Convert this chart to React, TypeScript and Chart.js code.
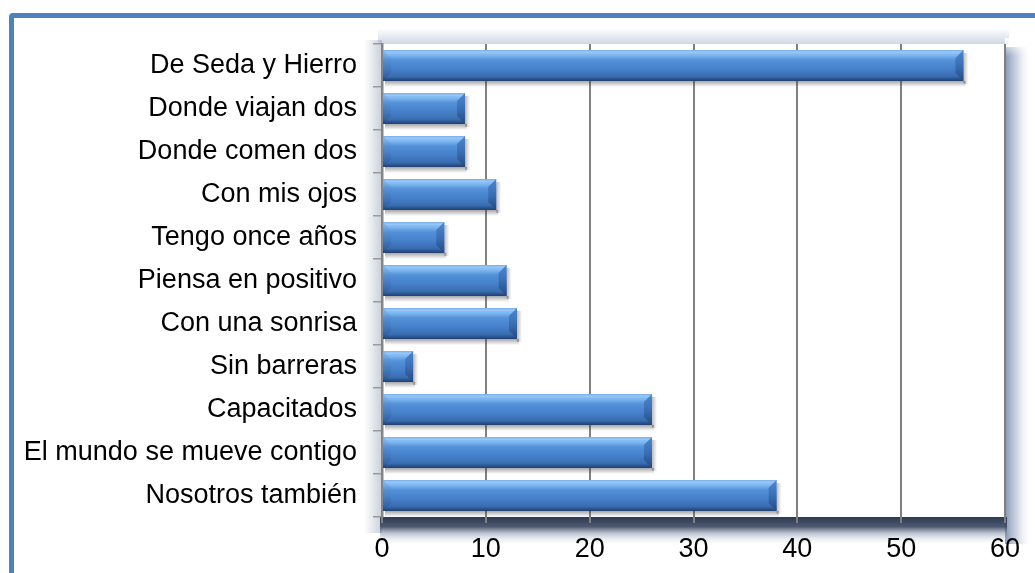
import React, { useEffect, useRef } from "react";
import { Chart, registerables } from "chart.js";

Chart.register(...registerables);

const categories = [
  "De Seda y Hierro",
  "Donde viajan dos",
  "Donde comen dos",
  "Con mis ojos",
  "Tengo once años",
  "Piensa en positivo",
  "Con una sonrisa",
  "Sin barreras",
  "Capacitados",
  "El mundo se mueve contigo",
  "Nosotros también",
];
const values = [56, 8, 8, 11, 6, 12, 13, 3, 26, 26, 38];
const xTicks = [0, 10, 20, 30, 40, 50, 60];

const FONT = "'Liberation Sans', Arial, sans-serif";

const plotShadow = {
  id: "plotShadow",
  beforeDraw(chart: any) {
    const { ctx, chartArea: a } = chart;
    const w = a.right - a.left;
    const h = a.bottom - a.top;
    ctx.save();

    // top glow
    const gt = ctx.createLinearGradient(0, a.top - 16, 0, a.top);
    gt.addColorStop(0, "rgba(170,185,210,0)");
    gt.addColorStop(1, "rgba(170,185,210,0.55)");
    ctx.fillStyle = gt;
    ctx.fillRect(a.left - 4, a.top - 16, w + 8, 16);

    // left glow
    const gL = ctx.createLinearGradient(a.left - 18, 0, a.left, 0);
    gL.addColorStop(0, "rgba(165,175,192,0)");
    gL.addColorStop(1, "rgba(165,175,192,0.6)");
    ctx.fillStyle = gL;
    ctx.fillRect(a.left - 18, a.top - 4, 18, h + 20);

    // right shadow
    const gr = ctx.createLinearGradient(a.right, 0, a.right + 24, 0);
    gr.addColorStop(0, "rgba(105,122,160,0.8)");
    gr.addColorStop(0.45, "rgba(145,160,192,0.5)");
    gr.addColorStop(1, "rgba(210,218,232,0)");
    ctx.fillStyle = gr;
    ctx.fillRect(a.right, a.top + 3, 24, h + 24);
    const grt = ctx.createLinearGradient(0, a.top - 6, 0, a.top + 12);
    grt.addColorStop(0, "rgba(255,255,255,1)");
    grt.addColorStop(1, "rgba(255,255,255,0)");
    ctx.fillStyle = grt;
    ctx.fillRect(a.right, a.top - 6, 24, 18);

    // bottom dark floor + fade
    const gb = ctx.createLinearGradient(0, a.bottom, 0, a.bottom + 28);
    gb.addColorStop(0, "rgba(45,57,80,1)");
    gb.addColorStop(0.35, "rgba(62,76,102,0.92)");
    gb.addColorStop(0.6, "rgba(120,135,160,0.45)");
    gb.addColorStop(1, "rgba(220,225,235,0)");
    ctx.fillStyle = gb;
    ctx.fillRect(a.left - 2, a.bottom, w + 4, 28);

    // plot background
    ctx.fillStyle = "#ffffff";
    ctx.fillRect(a.left, a.top, w, h);
    ctx.restore();
  },
};

const bevelBars = {
  id: "bevelBars",
  afterDatasetsDraw(chart: any) {
    const { ctx } = chart;
    const meta = chart.getDatasetMeta(0);
    meta.data.forEach((el: any) => {
      const p = el.getProps(["x", "y", "base", "height"], true);
      const L = Math.min(p.base, p.x);
      const R = Math.max(p.base, p.x);
      const T = p.y - p.height / 2;
      const B = p.y + p.height / 2;
      const H = B - T;
      const b = Math.min(8, (R - L) / 2, H / 2);

      ctx.save();
      const gs = ctx.createLinearGradient(0, B, 0, B + 6);
      gs.addColorStop(0, "rgba(60,60,70,0.45)");
      gs.addColorStop(1, "rgba(60,60,70,0)");
      ctx.fillStyle = gs;
      ctx.fillRect(L + 2, B, R - L, 6);
      const gs2 = ctx.createLinearGradient(R, 0, R + 5, 0);
      gs2.addColorStop(0, "rgba(60,60,70,0.35)");
      gs2.addColorStop(1, "rgba(60,60,70,0)");
      ctx.fillStyle = gs2;
      ctx.fillRect(R, T + 3, 5, H);

      const g = ctx.createLinearGradient(0, T, 0, B);
      g.addColorStop(0, "#5e95d8");
      g.addColorStop(0.07, "#8fc4f6");
      g.addColorStop(0.18, "#7ab4ef");
      g.addColorStop(0.32, "#5391d9");
      g.addColorStop(0.6, "#4681cb");
      g.addColorStop(0.85, "#3a6db1");
      g.addColorStop(0.93, "#2a5592");
      g.addColorStop(1, "#1f3c68");
      ctx.fillStyle = g;
      ctx.fillRect(L, T, R - L, H);

      const gl = ctx.createLinearGradient(0, T, 0, B);
      gl.addColorStop(0, "rgba(120,175,235,0.5)");
      gl.addColorStop(1, "rgba(30,70,130,0.45)");
      ctx.fillStyle = gl;
      ctx.beginPath();
      ctx.moveTo(L, T);
      ctx.lineTo(L + b, T + b);
      ctx.lineTo(L + b, B - b);
      ctx.lineTo(L, B);
      ctx.closePath();
      ctx.fill();

      const gR = ctx.createLinearGradient(0, T, 0, B);
      gR.addColorStop(0, "#4c86cf");
      gR.addColorStop(0.5, "#3a6fb5");
      gR.addColorStop(1, "#244a82");
      ctx.fillStyle = gR;
      ctx.beginPath();
      ctx.moveTo(R - b, T + b);
      ctx.lineTo(R, T);
      ctx.lineTo(R, B);
      ctx.lineTo(R - b, B - b);
      ctx.closePath();
      ctx.fill();

      ctx.fillStyle = "rgba(170,215,255,0.35)";
      ctx.beginPath();
      ctx.moveTo(L, T);
      ctx.lineTo(R, T);
      ctx.lineTo(R - b * 0.35, T + b * 0.35);
      ctx.lineTo(L + b * 0.35, T + b * 0.35);
      ctx.closePath();
      ctx.fill();
      ctx.restore();
    });
  },
};

export default function App() {
  const ref = useRef<HTMLCanvasElement | null>(null);

  useEffect(() => {
    if (!ref.current) return;
    const chart = new Chart(ref.current, {
      type: "bar",
      data: {
        labels: categories,
        datasets: [
          {
            data: values,
            backgroundColor: "rgba(0,0,0,0)",
            borderWidth: 0,
            barPercentage: 0.72,
            categoryPercentage: 1,
          },
        ],
      },
      options: {
        indexAxis: "y",
        responsive: false,
        animation: false,
        devicePixelRatio: 1,
        layout: { padding: { top: 44, right: 30, left: 0, bottom: 0 } },
        plugins: {
          legend: { display: false },
          tooltip: { enabled: false },
          title: { display: false },
        },
        scales: {
          x: {
            type: "linear",
            position: "bottom",
            min: 0,
            max: 60,
            afterBuildTicks: (s: any) => {
              s.ticks = xTicks.map((v) => ({ value: v }));
            },
            afterFit: (s: any) => {
              s.height = 56;
            },
            ticks: {
              color: "#000",
              font: { family: FONT, size: 27 },
              padding: 10,
            },
            grid: {
              color: "#808080",
              lineWidth: 2,
              drawTicks: true,
              tickLength: 6,
            },
            border: { display: false },
          },
          y: {
            type: "category",
            afterFit: (s: any) => {
              s.width = 382;
            },
            ticks: {
              color: "#000",
              font: { family: FONT, size: 27 },
              padding: 16,
            },
            grid: {
              display: true,
              drawOnChartArea: false,
              drawTicks: true,
              tickLength: 9,
              color: "#9a9a9a",
              lineWidth: 1.5,
              offset: true,
            },
            border: { display: true, color: "#858585", width: 2.5 },
          },
        },
      },
      plugins: [plotShadow, bevelBars],
    } as any);
    return () => chart.destroy();
  }, []);

  return (
    <div
      style={{
        position: "absolute",
        left: 0,
        top: 0,
        width: 1035,
        height: 573,
        overflow: "hidden",
        background: "#ffffff",
      }}
    >
      <div
        style={{
          position: "absolute",
          left: 9,
          top: 13,
          width: 1100,
          height: 700,
          border: "5px solid #4f81bd",
          borderRadius: 4,
          boxSizing: "border-box",
        }}
      />
      <canvas
        ref={ref}
        width={1035}
        height={573}
        style={{ position: "absolute", left: 0, top: 0, display: "block" }}
      />
    </div>
  );
}
